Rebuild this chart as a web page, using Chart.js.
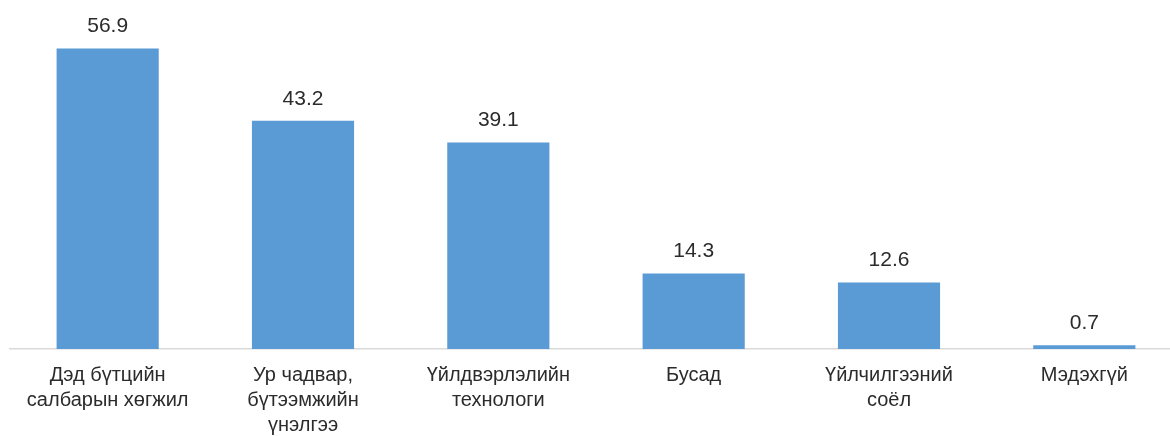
<!DOCTYPE html>
<html>
<head>
<meta charset="utf-8">
<script src="https://cdn.jsdelivr.net/npm/chart.js@4"></script>
<style>
  html, body { margin:0; padding:0; background:#fff; overflow:hidden; }
  #wrap { width:1182px; height:436px; position:relative; }
</style>
</head>
<body>
<div id="wrap"><canvas id="c" width="1182" height="436"></canvas></div>
<script>
const categories = [
  ["Дэд бүтцийн", "салбарын хөгжил"],
  ["Ур чадвар,", "бүтээмжийн", "үнэлгээ"],
  ["Үйлдвэрлэлийн", "технологи"],
  ["Бусад"],
  ["Үйлчилгээний", "соёл"],
  ["Мэдэхгүй"]
];
const values = [56.9, 43.2, 39.1, 14.3, 12.6, 0.7];
const valueLabels = ["56.9", "43.2", "39.1", "14.3", "12.6", "0.7"];

const FONT = "'Liberation Sans', Arial, sans-serif";
const TEXT = "#2b2b2b";

const labelPlugin = {
  id: 'valueLabels',
  afterDatasetsDraw(chart) {
    const ctx = chart.ctx;
    const meta = chart.getDatasetMeta(0);
    ctx.save();
    ctx.font = "21px " + FONT;
    ctx.fillStyle = TEXT;
    ctx.textAlign = 'center';
    ctx.textBaseline = 'alphabetic';
    meta.data.forEach((bar, i) => {
      ctx.fillText(valueLabels[i], bar.x, bar.y - 16);
    });
    ctx.restore();
  }
};

new Chart(document.getElementById('c'), {
  type: 'bar',
  data: {
    labels: categories,
    datasets: [{
      data: values,
      backgroundColor: '#5B9BD5',
      borderWidth: 0,
      categoryPercentage: 0.523,
      barPercentage: 1
    }]
  },
  options: {
    responsive: false,
    animation: false,
    devicePixelRatio: 1,
    layout: { padding: { left: 10, right: 0, top: 32, bottom: 0 } },
    plugins: { legend: { display: false }, tooltip: { enabled: false } },
    scales: {
      y: { display: false, min: 0, max: 60 },
      x: {
        grid: { display: false, drawTicks: false },
        border: { display: true, color: '#d9d9d9', width: 1.5 },
        ticks: {
          color: TEXT,
          font: { family: FONT, size: 20, lineHeight: 25/20 },
          padding: 14,
          maxRotation: 0,
          autoSkip: false
        },
        afterFit(s) { s.height = 87; }
      }
    }
  },
  plugins: [labelPlugin]
});
</script>
</body>
</html>
